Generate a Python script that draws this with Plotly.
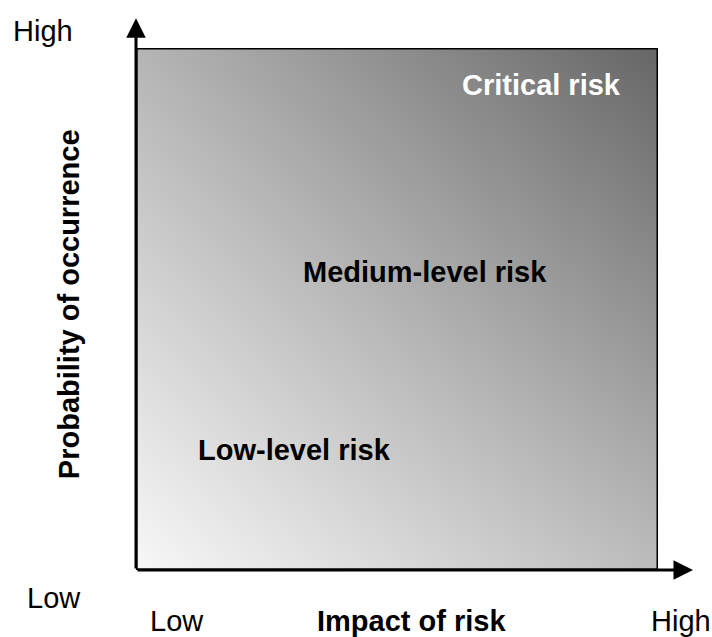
import plotly.graph_objects as go

# --- data ---
axis_levels = ["Low", "High"]                 # qualitative scale ends
x_title = "Impact of risk"
y_title = "Probability of occurrence"
risk_labels = ["Low-level risk", "Medium-level risk", "Critical risk"]
# grey level (0-255) of the background gradient at the four corners
grad_x = [0, 1]
grad_y = [0, 1]
grad_z = [[247, 188],   # bottom row: low probability
          [181, 102]]   # top row: high probability

FONT = "Liberation Sans, Arial, sans-serif"
FS = 29

fig = go.Figure()
fig.add_trace(go.Heatmap(
    x=grad_x, y=grad_y, z=grad_z, zsmooth="best",
    zmin=0, zmax=255,
    colorscale=[[0, "rgb(0,0,0)"], [1, "rgb(255,255,255)"]],
    showscale=False, hoverinfo="skip"))

fig.update_xaxes(range=[0, 1], visible=False, fixedrange=True)
fig.update_yaxes(range=[0, 1], visible=False, fixedrange=True)

# frame
fig.add_shape(type="rect", xref="x", yref="y", x0=0, y0=0, x1=1, y1=1,
              line=dict(color="black", width=3))

# axis arrows
for tip in [(1.067, 0), (0, 1.057)]:
    fig.add_annotation(x=tip[0], y=tip[1], ax=0, ay=0, xref="x", yref="y",
                       axref="x", ayref="y", text="", showarrow=True,
                       arrowhead=2, arrowsize=1.3, arrowwidth=3,
                       arrowcolor="black", standoff=0)

def txt(x, y, s, bold=False, color="black", angle=0):
    fig.add_annotation(x=x, y=y, xref="paper", yref="paper",
                       text=(f"<b>{s}</b>" if bold else s),
                       showarrow=False, textangle=angle,
                       font=dict(family=FONT, size=FS, color=color),
                       xanchor="center", yanchor="middle")

# axis end labels
txt(-0.179, 1.0326, axis_levels[1])
txt(-0.157, -0.0536, axis_levels[0])
txt(0.0785, -0.0977, axis_levels[0])
txt(1.044, -0.0977, axis_levels[1])
# titles
txt(0.527, -0.0977, x_title, bold=True)
txt(-0.128, 0.5096, y_title, bold=True, angle=-90)
# risk zones
txt(0.3027, 0.2299, risk_labels[0], bold=True)
txt(0.5536, 0.571, risk_labels[1], bold=True)
txt(0.776, 0.929, risk_labels[2], bold=True, color="white")

fig.update_layout(
    width=712, height=637,
    margin=dict(l=136, r=54, t=48, b=67),
    paper_bgcolor="white", plot_bgcolor="white",
    showlegend=False,
)

fig.write_html("out.html", config={"displayModeBar": False},
               post_script="document.body.style.margin='0';document.body.style.overflow='hidden';")
